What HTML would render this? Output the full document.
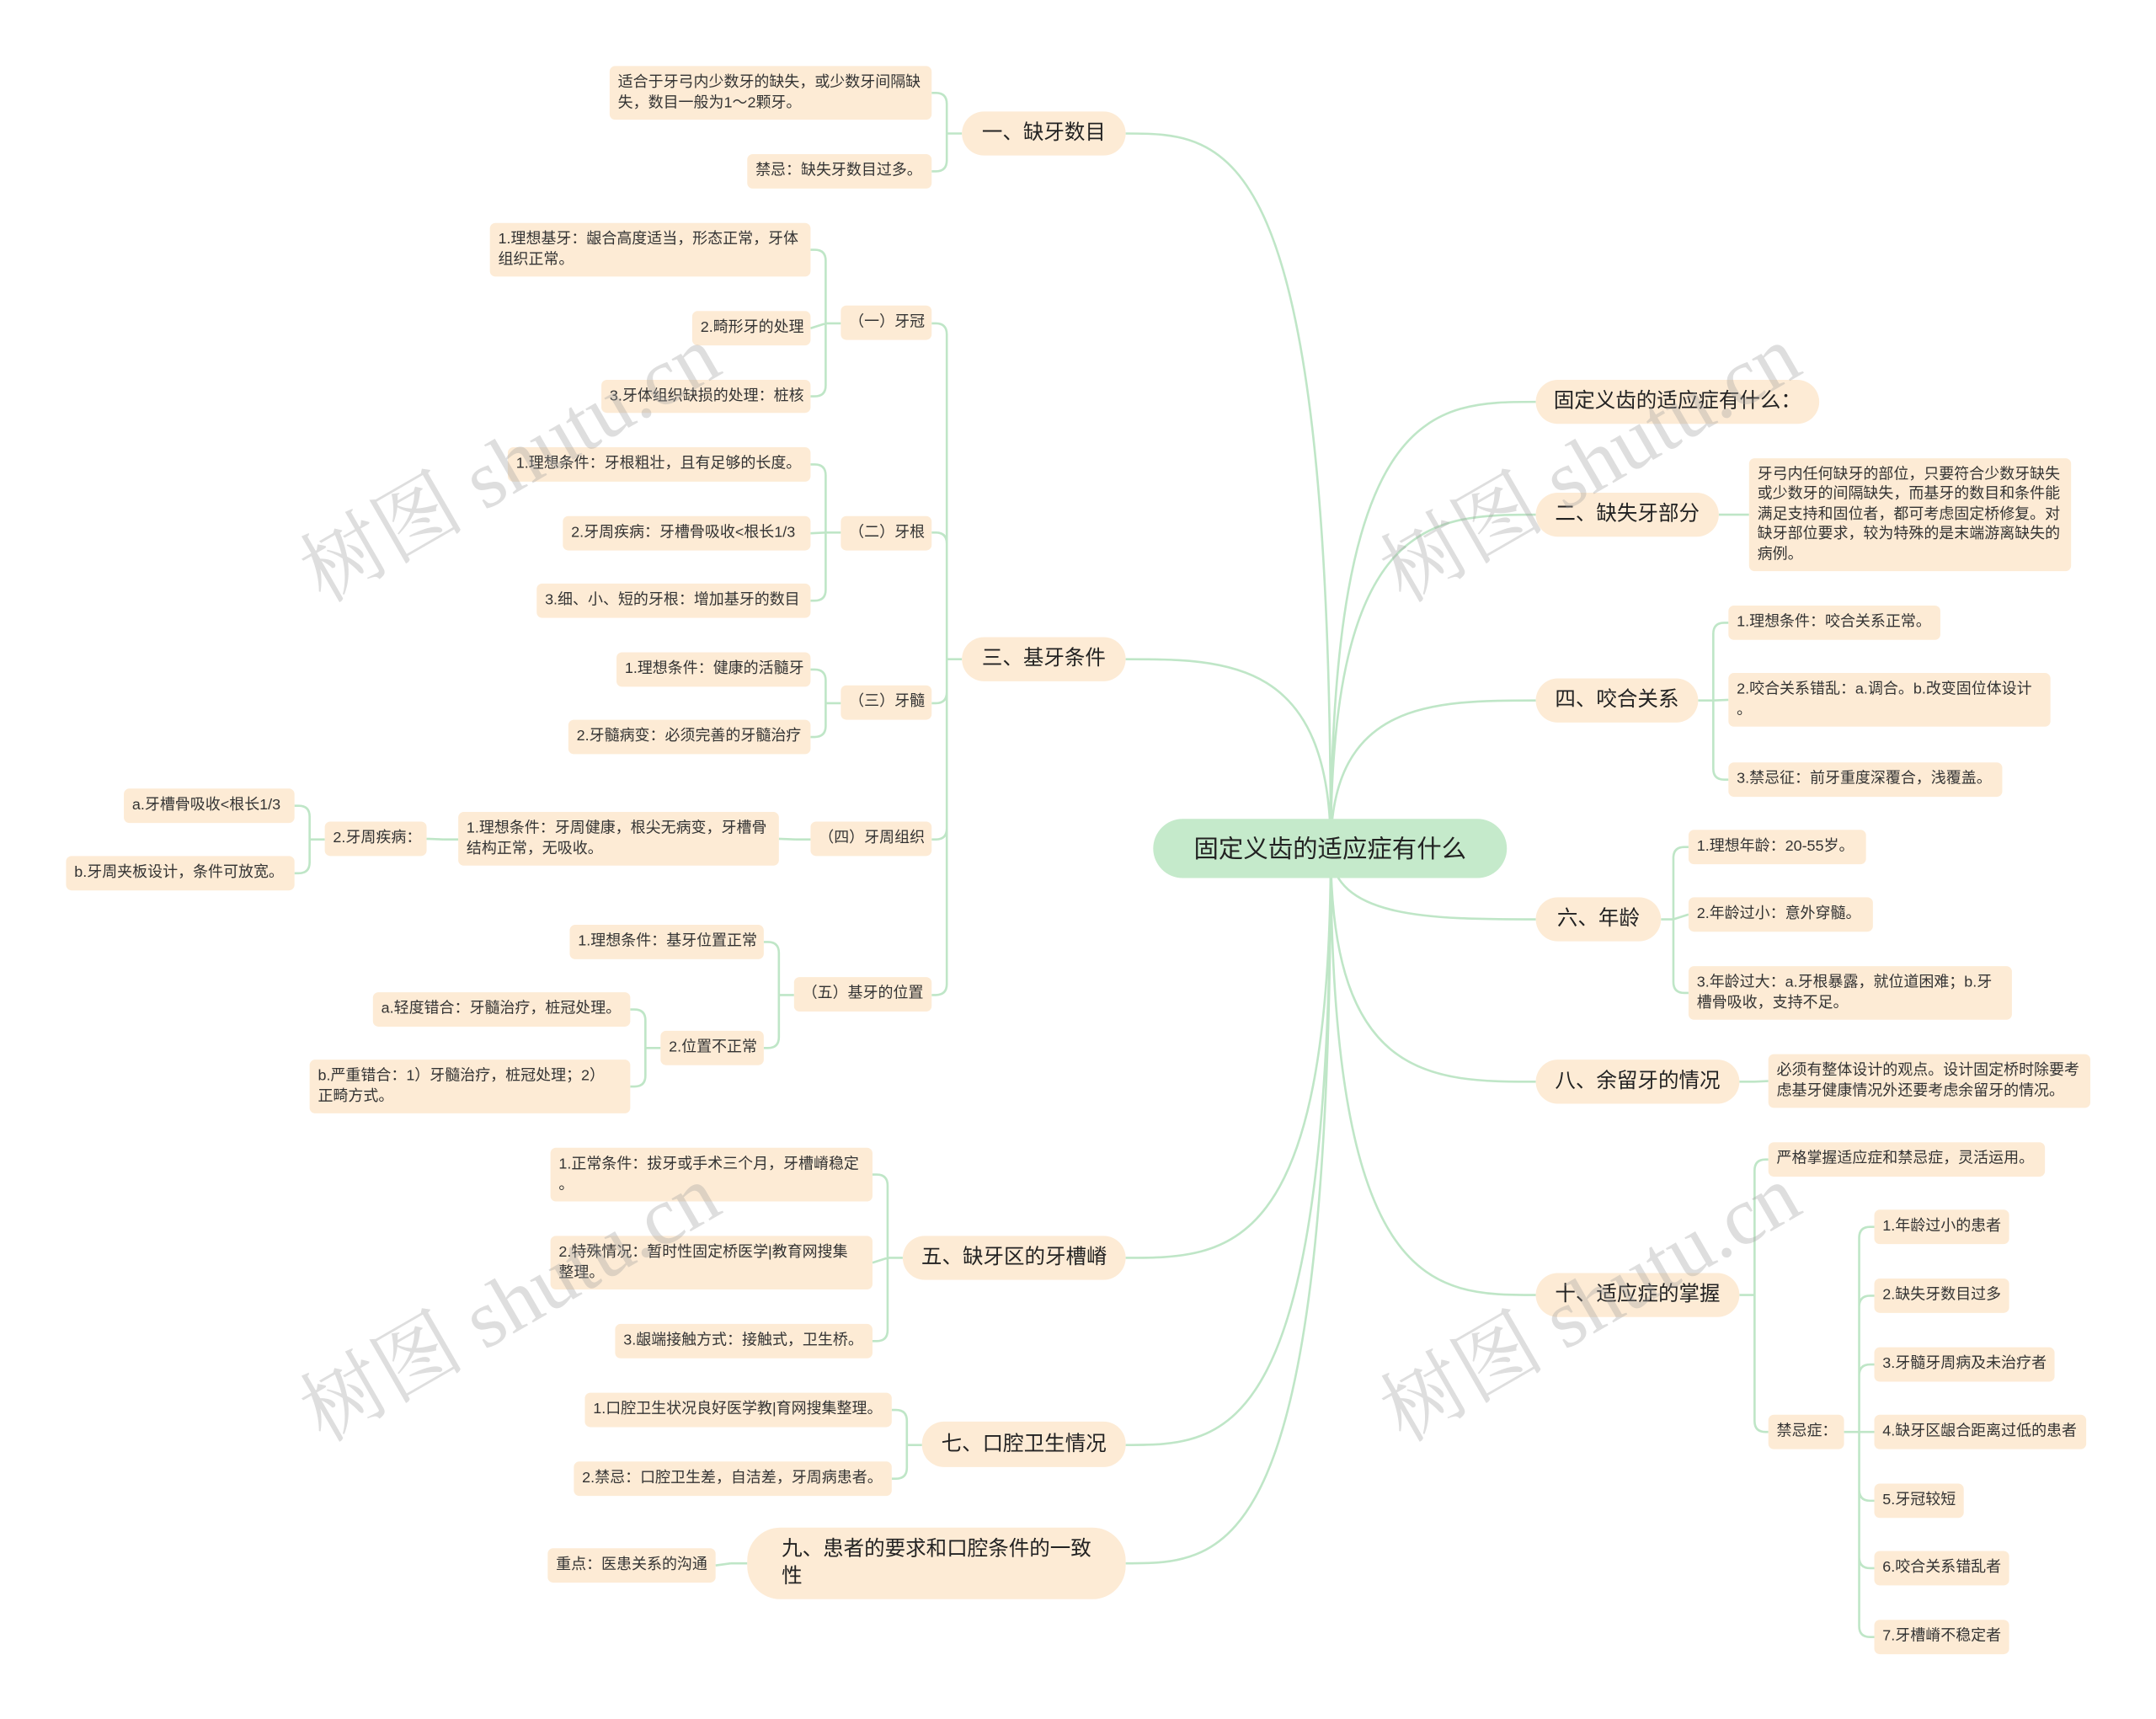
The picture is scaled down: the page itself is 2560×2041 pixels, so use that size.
<!DOCTYPE html>
<html><head><meta charset="utf-8">
<style>
html,body{margin:0;padding:0;background:#fff;}
body{width:2560px;height:2041px;overflow:hidden;position:relative;}
#c{position:absolute;left:0;top:0;width:1560px;height:1244px;transform:scale(1.634,1.634);transform-origin:0 0;font-family:"Liberation Sans","Noto Sans CJK SC",sans-serif;color:#333;}
.n{position:absolute;box-sizing:border-box;background:#fdebd5;border-radius:4px;padding:0 6px;display:flex;align-items:center;font-size:11px;line-height:14.5px;white-space:nowrap;}
.m{position:absolute;box-sizing:border-box;background:#fdebd5;border-radius:16px;display:flex;align-items:center;justify-content:center;font-size:15px;line-height:20px;white-space:nowrap;color:#222;}
.w{position:absolute;font-size:60px;color:rgba(160,160,160,0.35);transform:rotate(-30deg);white-space:nowrap;font-family:"Liberation Serif","Noto Serif CJK SC",serif;}
svg{position:absolute;left:0;top:0;}
</style></head><body>
<div id="c">
<svg id="s" width="1560" height="1244" viewBox="0 0 1560 1244"></svg>

<div class="m" style="left:838px;top:595px;width:257px;height:43px;background:#c5eacb;border-radius:22px;font-size:18px;">固定义齿的适应症有什么</div>

<div class="m" style="left:699px;top:81px;width:119px;height:32px;">一、缺牙数目</div>
<div class="m" style="left:699px;top:463px;width:119px;height:32px;">三、基牙条件</div>
<div class="m" style="left:656px;top:898px;width:162px;height:32px;">五、缺牙区的牙槽嵴</div>
<div class="m" style="left:670px;top:1033px;width:148px;height:33px;">七、口腔卫生情况</div>
<div class="m" style="left:543px;top:1110px;width:275px;height:52px;border-radius:24px;justify-content:flex-start;padding-left:25px;">九、患者的要求和口腔条件的一致<br>性</div>

<div class="m" style="left:1116px;top:276px;width:206px;height:32px;">固定义齿的适应症有什么：</div>
<div class="m" style="left:1116px;top:358px;width:133px;height:32px;">二、缺失牙部分</div>
<div class="m" style="left:1116px;top:493px;width:118px;height:32px;">四、咬合关系</div>
<div class="m" style="left:1116px;top:652px;width:91px;height:32px;">六、年龄</div>
<div class="m" style="left:1116px;top:770px;width:148px;height:32px;">八、余留牙的情况</div>
<div class="m" style="left:1116px;top:925px;width:148px;height:32px;">十、适应症的掌握</div>

<div class="n" style="left:443px;top:48px;width:234px;height:39px;">适合于牙弓内少数牙的缺失，或少数牙间隔缺<br>失，数目一般为1～2颗牙。</div>
<div class="n" style="left:543px;top:112px;width:134px;height:25px;">禁忌：缺失牙数目过多。</div>

<div class="n" style="left:611px;top:222px;width:66px;height:25px;">（一）牙冠</div>
<div class="n" style="left:611px;top:375px;width:66px;height:25px;">（二）牙根</div>
<div class="n" style="left:611px;top:498px;width:66px;height:25px;">（三）牙髓</div>
<div class="n" style="left:589px;top:597px;width:88px;height:25px;">（四）牙周组织</div>
<div class="n" style="left:577px;top:710px;width:100px;height:25px;">（五）基牙的位置</div>

<div class="n" style="left:356px;top:162px;width:233px;height:39px;">1.理想基牙：龈合高度适当，形态正常，牙体<br>组织正常。</div>
<div class="n" style="left:503px;top:226px;width:86px;height:25px;">2.畸形牙的处理</div>
<div class="n" style="left:437px;top:276px;width:152px;height:24px;">3.牙体组织缺损的处理：桩核</div>
<div class="n" style="left:369px;top:325px;width:220px;height:25px;">1.理想条件：牙根粗壮，且有足够的长度。</div>
<div class="n" style="left:409px;top:375px;width:180px;height:25px;">2.牙周疾病：牙槽骨吸收&lt;根长1/3</div>
<div class="n" style="left:390px;top:424px;width:199px;height:25px;">3.细、小、短的牙根：增加基牙的数目</div>
<div class="n" style="left:448px;top:474px;width:141px;height:25px;">1.理想条件：健康的活髓牙</div>
<div class="n" style="left:413px;top:523px;width:176px;height:25px;">2.牙髓病变：必须完善的牙髓治疗</div>
<div class="n" style="left:333px;top:590px;width:233px;height:39px;">1.理想条件：牙周健康，根尖无病变，牙槽骨<br>结构正常，无吸收。</div>
<div class="n" style="left:236px;top:597px;width:74px;height:25px;">2.牙周疾病：</div>
<div class="n" style="left:90px;top:573px;width:124px;height:25px;">a.牙槽骨吸收&lt;根长1/3</div>
<div class="n" style="left:48px;top:622px;width:166px;height:25px;">b.牙周夹板设计，条件可放宽。</div>
<div class="n" style="left:414px;top:672px;width:141px;height:25px;">1.理想条件：基牙位置正常</div>
<div class="n" style="left:480px;top:749px;width:75px;height:25px;">2.位置不正常</div>
<div class="n" style="left:271px;top:721px;width:187px;height:25px;">a.轻度错合：牙髓治疗，桩冠处理。</div>
<div class="n" style="left:225px;top:770px;width:233px;height:39px;">b.严重错合：1）牙髓治疗，桩冠处理；2）<br>正畸方式。</div>

<div class="n" style="left:400px;top:834px;width:234px;height:39px;">1.正常条件：拔牙或手术三个月，牙槽嵴稳定<br>。</div>
<div class="n" style="left:400px;top:898px;width:234px;height:39px;">2.特殊情况：暂时性固定桥医学|教育网搜集<br>整理。</div>
<div class="n" style="left:447px;top:962px;width:187px;height:25px;">3.龈端接触方式：接触式，卫生桥。</div>
<div class="n" style="left:425px;top:1012px;width:223px;height:25px;">1.口腔卫生状况良好医学教|育网搜集整理。</div>
<div class="n" style="left:417px;top:1062px;width:231px;height:25px;">2.禁忌：口腔卫生差，自洁差，牙周病患者。</div>
<div class="n" style="left:398px;top:1125px;width:122px;height:25px;">重点：医患关系的沟通</div>

<div class="n" style="left:1271px;top:333px;width:234px;height:82px;">牙弓内任何缺牙的部位，只要符合少数牙缺失<br>或少数牙的间隔缺失，而基牙的数目和条件能<br>满足支持和固位者，都可考虑固定桥修复。对<br>缺牙部位要求，较为特殊的是末端游离缺失的<br>病例。</div>
<div class="n" style="left:1256px;top:440px;width:154px;height:25px;">1.理想条件：咬合关系正常。</div>
<div class="n" style="left:1256px;top:489px;width:234px;height:39px;">2.咬合关系错乱：a.调合。b.改变固位体设计<br>。</div>
<div class="n" style="left:1256px;top:554px;width:199px;height:25px;">3.禁忌征：前牙重度深覆合，浅覆盖。</div>
<div class="n" style="left:1227px;top:603px;width:129px;height:25px;">1.理想年龄：20-55岁。</div>
<div class="n" style="left:1227px;top:652px;width:134px;height:25px;">2.年龄过小：意外穿髓。</div>
<div class="n" style="left:1227px;top:702px;width:235px;height:39px;">3.年龄过大：a.牙根暴露，就位道困难；b.牙<br>槽骨吸收，支持不足。</div>
<div class="n" style="left:1285px;top:766px;width:234px;height:39px;">必须有整体设计的观点。设计固定桥时除要考<br>虑基牙健康情况外还要考虑余留牙的情况。</div>
<div class="n" style="left:1285px;top:830px;width:201px;height:25px;">严格掌握适应症和禁忌症，灵活运用。</div>
<div class="n" style="left:1285px;top:1028px;width:55px;height:25px;">禁忌症：</div>
<div class="n" style="left:1362px;top:879px;width:98px;height:25px;">1.年龄过小的患者</div>
<div class="n" style="left:1362px;top:929px;width:98px;height:25px;">2.缺失牙数目过多</div>
<div class="n" style="left:1362px;top:979px;width:131px;height:25px;">3.牙髓牙周病及未治疗者</div>
<div class="n" style="left:1362px;top:1028px;width:154px;height:25px;">4.缺牙区龈合距离过低的患者</div>
<div class="n" style="left:1362px;top:1078px;width:65px;height:25px;">5.牙冠较短</div>
<div class="n" style="left:1362px;top:1127px;width:98px;height:25px;">6.咬合关系错乱者</div>
<div class="n" style="left:1362px;top:1177px;width:98px;height:25px;">7.牙槽嵴不稳定者</div>

<div class="w" style="left:200px;top:290px;">树图 shutu.cn</div>
<div class="w" style="left:985px;top:290px;">树图 shutu.cn</div>
<div class="w" style="left:200px;top:900px;">树图 shutu.cn</div>
<div class="w" style="left:985px;top:900px;">树图 shutu.cn</div>
</div>
<script>
var s=document.getElementById('s'),d='';
function main(tx,ty){var sx=967,sy=617;d+='M'+sx+','+sy+' C'+sx+','+ty+' '+((sx+tx)/2)+','+ty+' '+tx+','+ty+' ';}
function br(px,py,bx,cx,ys){d+='M'+px+','+py+' H'+bx+' ';var r=8,dir=cx>bx?1:-1;ys.forEach(function(cy){if(Math.abs(cy-py)<r){d+='M'+bx+','+py+' L'+cx+','+cy+' ';return;}var sg=cy>py?1:-1;d+='M'+bx+','+py+' V'+(cy-sg*r)+' Q'+bx+','+cy+' '+(bx+dir*r)+','+cy+' H'+cx+' ';});}
[[818,97],[818,479],[818,914],[818,1050],[818,1136],[1116,292],[1116,374],[1116,509],[1116,668],[1116,786],[1116,941]].forEach(function(p){main(p[0],p[1]);});
br(699,97,688,677,[67.5,124.5]);
br(699,479,688,677,[235,387,511,610,723]);
br(611,235,600,589,[181.5,238.5,288]);
br(611,387,600,589,[337.5,387.5,436.5]);
br(611,511,600,589,[486.5,535.5]);
br(589,610,578,566,[609.5]);
br(333,610,322,310,[609.5]);
br(236,610,225,214,[585.5,634.5]);
br(577,723,566,555,[684.5,761.5]);
br(480,761.5,469,458,[733.5,789.5]);
br(656,914,645,634,[853.5,917.5,974.5]);
br(670,1050,659,648,[1024.5,1074.5]);
br(543,1136,531,520,[1137.5]);
br(1249,374,1260,1271,[374]);
br(1234,509,1245,1256,[452.5,508.5,566.5]);
br(1207,668,1216,1227,[615.5,664.5,721.5]);
br(1264,786,1275,1285,[785.5]);
br(1264,941,1275,1285,[842.5,1040.5]);
br(1340,1040.5,1351,1362,[891.5,941.5,991.5,1040.5,1090.5,1139.5,1189.5]);
s.innerHTML='<path d="'+d+'" fill="none" stroke="#bfe6c7" stroke-width="1.6"/>';
</script>
</body></html>
